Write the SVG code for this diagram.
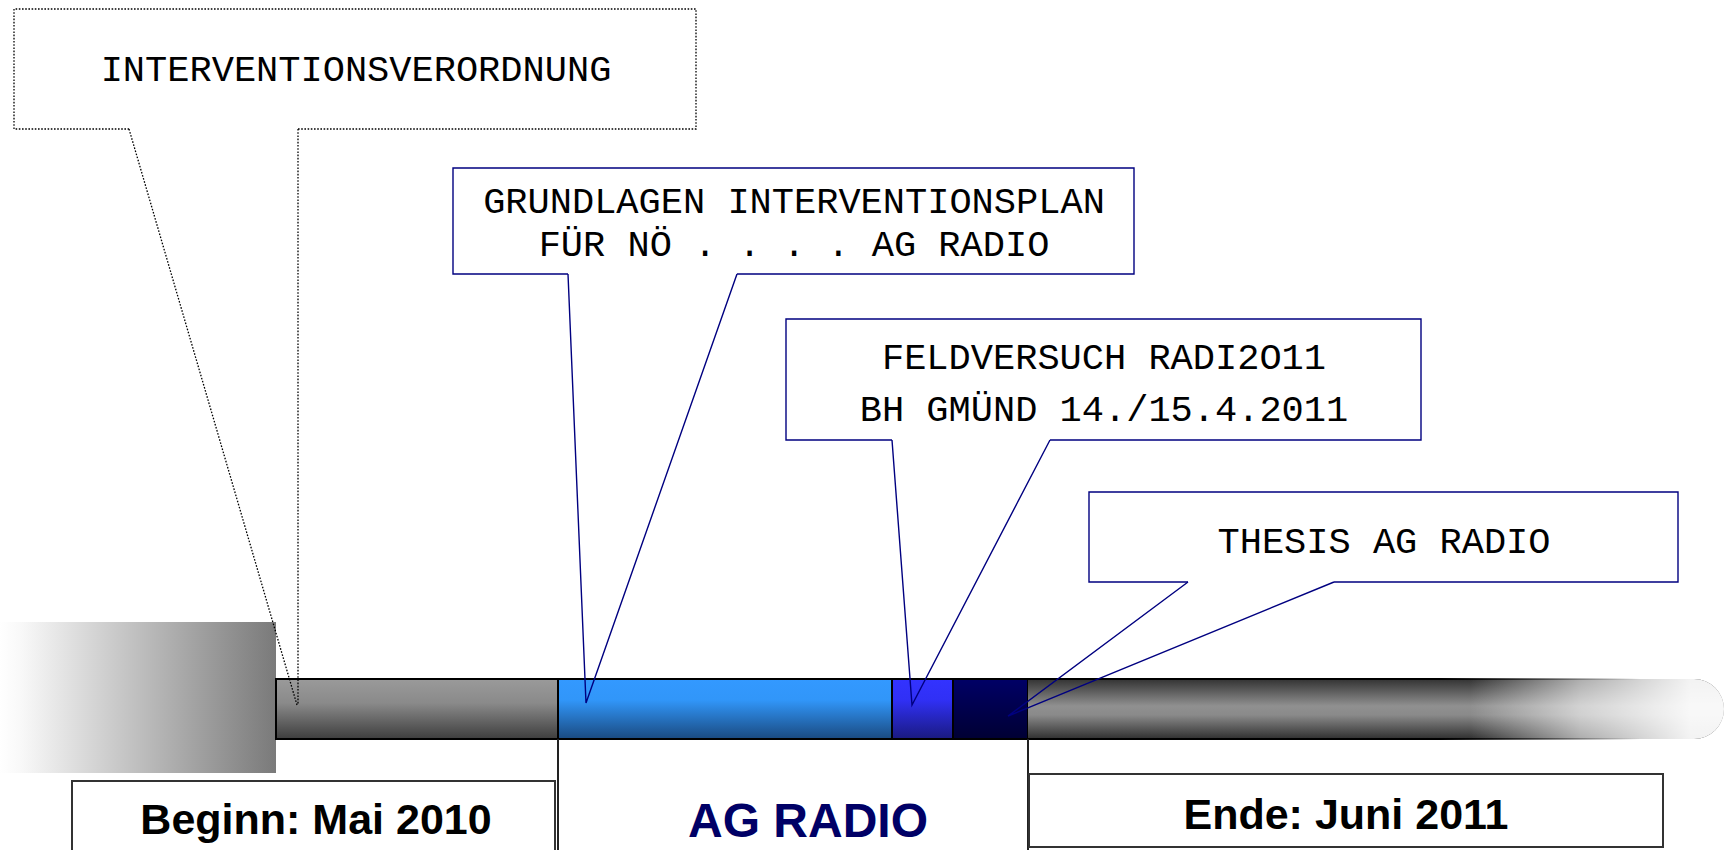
<svg xmlns="http://www.w3.org/2000/svg" width="1733" height="850" viewBox="0 0 1733 850">
<defs>
<linearGradient id="gFade" x1="0" y1="0" x2="1" y2="0">
<stop offset="0" stop-color="#ffffff"/>
<stop offset="0.08" stop-color="#f8f8f8"/>
<stop offset="1" stop-color="#7a7a7a"/>
</linearGradient>
<linearGradient id="gGrey" x1="0" y1="0" x2="0" y2="1">
<stop offset="0" stop-color="#9a9a9a"/>
<stop offset="0.4" stop-color="#8a8a8a"/>
<stop offset="1" stop-color="#3e3e3e"/>
</linearGradient>
<linearGradient id="gBlue" x1="0" y1="0" x2="0" y2="1">
<stop offset="0" stop-color="#3399ff"/>
<stop offset="0.35" stop-color="#3196f9"/>
<stop offset="1" stop-color="#1a4a80"/>
</linearGradient>
<linearGradient id="gMid" x1="0" y1="0" x2="0" y2="1">
<stop offset="0" stop-color="#3333ff"/>
<stop offset="0.35" stop-color="#3030f5"/>
<stop offset="1" stop-color="#1a1a80"/>
</linearGradient>
<linearGradient id="gNavy" x1="0" y1="0" x2="0" y2="1">
<stop offset="0" stop-color="#000066"/>
<stop offset="1" stop-color="#000033"/>
</linearGradient>
<linearGradient id="gCyl" x1="0" y1="0" x2="0" y2="1">
<stop offset="0" stop-color="#333333"/>
<stop offset="0.45" stop-color="#909090"/>
<stop offset="0.6" stop-color="#8a8a8a"/>
<stop offset="1" stop-color="#303030"/>
</linearGradient>
<linearGradient id="gWhiteOut" gradientUnits="userSpaceOnUse" x1="1470" y1="0" x2="1690" y2="0">
<stop offset="0" stop-color="#ffffff" stop-opacity="0"/>
<stop offset="0.5" stop-color="#ffffff" stop-opacity="0.6"/>
<stop offset="1" stop-color="#ffffff" stop-opacity="0.94"/>
</linearGradient>
<linearGradient id="gEdge" gradientUnits="userSpaceOnUse" x1="1440" y1="0" x2="1640" y2="0">
<stop offset="0" stop-color="#000" stop-opacity="1"/>
<stop offset="1" stop-color="#000" stop-opacity="0"/>
</linearGradient>
<style>
.seg{stroke:#000;stroke-width:2}
.co{fill:none;stroke:#000080;stroke-width:1.4}
.dot{fill:none;stroke:#000;stroke-width:1.3;stroke-dasharray:1.6 1.6}
.mono{font-family:"Liberation Mono","Courier New",monospace;font-size:37px;fill:#000;text-anchor:middle}
.bold{font-family:"Liberation Sans",Arial,sans-serif;font-weight:bold;text-anchor:middle}
.lbl{fill:#fff;stroke:#333;stroke-width:2}
</style>
</defs>
<rect width="1733" height="850" fill="#fff"/>

<g id="timeline">
<rect x="0" y="622" width="276" height="151" fill="url(#gFade)"/>
<rect id="seg-grey" class="seg" x="276" y="679" width="282" height="60" fill="url(#gGrey)"/>
<rect id="seg-blue" class="seg" x="558" y="679" width="334" height="60" fill="url(#gBlue)"/>
<rect id="seg-mid" class="seg" x="892" y="679" width="61" height="60" fill="url(#gMid)"/>
<rect id="seg-navy" class="seg" x="953" y="679" width="75" height="60" fill="url(#gNavy)"/>
<path id="seg-end" d="M1028,679 H1694 A30,30 0 0 1 1694,739 H1028 Z" fill="url(#gCyl)"/>
<path d="M1028,679 H1694 A30,30 0 0 1 1694,739 H1028 Z" fill="url(#gWhiteOut)"/>
<path d="M1028,679 H1700 M1028,739 H1700" fill="none" stroke="url(#gEdge)" stroke-width="2"/>
</g>

<g id="node-beginn">
<rect class="lbl" x="72" y="781" width="483" height="80"/>
<text class="bold" x="316" y="834" font-size="43">Beginn: Mai 2010</text>
</g>
<g id="node-agradio">
<path d="M558,739 V860 M1028,739 V860" fill="none" stroke="#222" stroke-width="2"/>
<text class="bold" x="808" y="837" font-size="48" fill="#000066">AG RADIO</text>
</g>
<g id="node-ende">
<rect class="lbl" x="1029" y="774" width="634" height="73"/>
<text class="bold" x="1346" y="829" font-size="43">Ende: Juni 2011</text>
</g>

<g id="node-intervo">
<path class="dot" d="M298,129 H696 V9 H14 V129 H129"/>
<text class="mono" x="356" y="81">INTERVENTIONSVERORDNUNG</text>
</g>
<g id="node-grundlagen">
<path class="co" d="M737,274 H1134 V168 H453 V274 H568"/>
<text class="mono" x="794" y="213">GRUNDLAGEN INTERVENTIONSPLAN</text>
<text class="mono" x="794" y="256">FÜR NÖ . . . . AG RADIO</text>
</g>
<g id="node-feldversuch">
<path class="co" d="M1050,440 H1421 V319 H786 V440 H892"/>
<text class="mono" x="1104" y="369">FELDVERSUCH RADI2O11</text>
<text class="mono" x="1104" y="421">BH GMÜND 14./15.4.2011</text>
</g>
<g id="node-thesis">
<path class="co" d="M1334,582 H1678 V492 H1089 V582 H1188"/>
<text class="mono" x="1384" y="553">THESIS AG RADIO</text>
</g>

<g id="connectors">
<path class="dot" d="M129,129 L297,705 M298,129 V705"/>
<path class="co" d="M568,274 L586,703 L737,274"/>
<path class="co" d="M892,440 L912,705 L1050,440"/>
<path class="co" d="M1188,582 L1008,716 L1334,582"/>
</g>
</svg>
